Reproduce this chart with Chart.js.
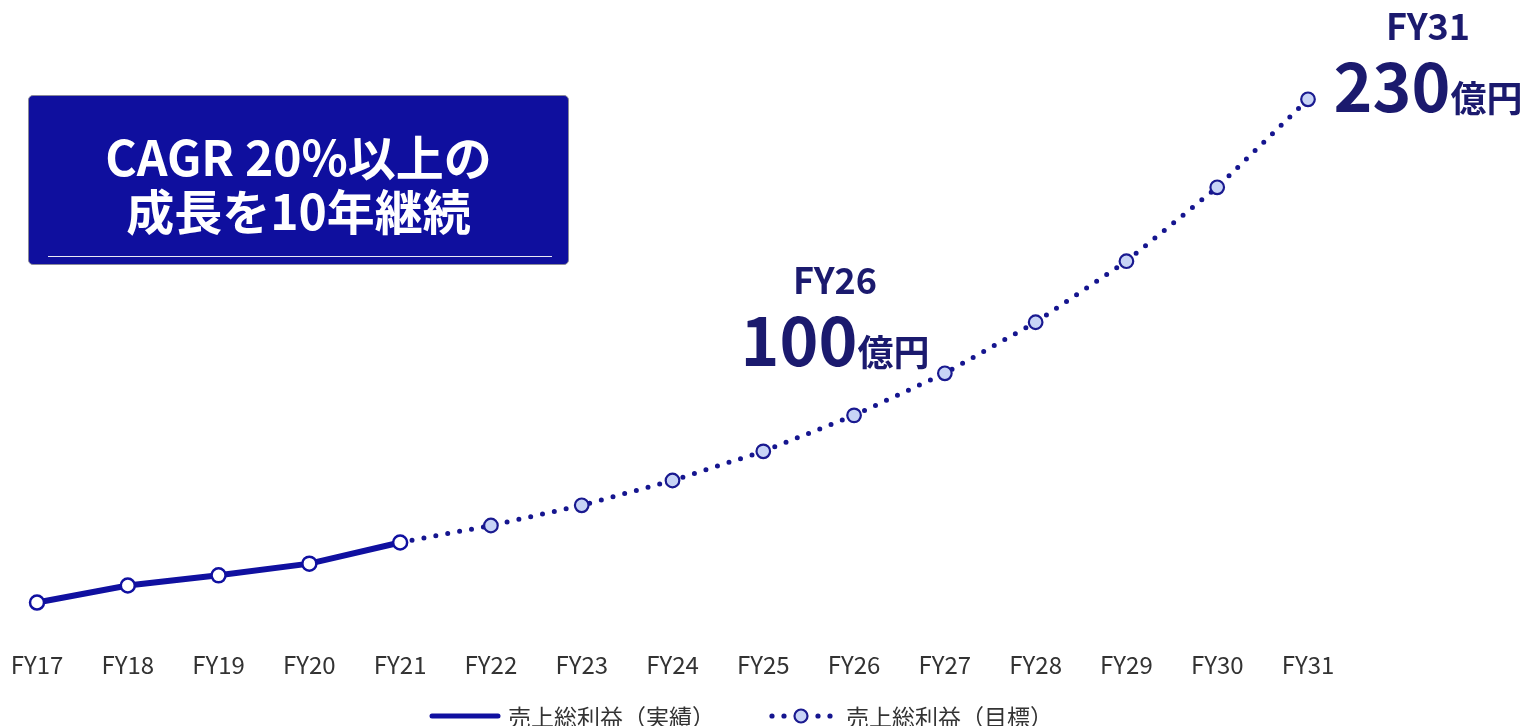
<!DOCTYPE html>
<html>
<head>
<meta charset="utf-8">
<script src="https://cdn.jsdelivr.net/npm/chart.js@4"></script>
<style>
  html, body { margin: 0; padding: 0; background: #fff; }
  body { width: 1526px; height: 726px; position: relative; overflow: hidden; font-family: "Noto Sans CJK JP", "Noto Sans", sans-serif; }
  #wrap { position: absolute; left: 0; top: 0; width: 1526px; height: 726px; }
  .box { position: absolute; left: 28px; top: 95px; width: 539px; height: 168px; background: #0f0f9e; border: 1px solid #8a8a9a; border-radius: 5px; box-sizing: content-box; }
  .box .t { position: absolute; left: 0; width: 100%; text-align: center; color: #fff; font-weight: 700; font-size: 48px; line-height: 54px; }
  .box .rule { position: absolute; left: 19px; right: 16px; top: 160px; height: 1px; background: #e8e8f4; }
  .ann { position: absolute; text-align: center; color: #1b1a6e; font-weight: 700; white-space: nowrap; }
  .ann .fy { font-size: 36px; line-height: 40px; position: relative; top: -4px; }
  .ann .big { font-size: 66px; line-height: 70px; }
  .ann .unit { font-size: 36px; }
  .legend { position: absolute; top: 702px; left: 0; width: 1526px; height: 28px; }
  .legend .item { position: absolute; top: 0; display: flex; align-items: center; height: 28px; font-size: 23px; color: #333; }
  .legend svg { display: block; margin-right: 6px; }
</style>
</head>
<body>
<div id="wrap"><canvas id="c" width="1526" height="726"></canvas></div>

<div class="box">
  <div class="t" style="top:32px;">CAGR 20%以上の</div>
  <div class="t" style="top:86px;">成長を10年継続</div>
  <div class="rule"></div>
</div>

<div class="ann" style="left:735px; top:262px; width:200px;">
  <div class="fy">FY26</div>
  <div class="big">100<span class="unit">億円</span></div>
</div>
<div class="ann" style="left:1328px; top:8px; width:200px;">
  <div class="fy">FY31</div>
  <div class="big">230<span class="unit">億円</span></div>
</div>

<div class="legend">
  <div class="item" style="left:428px;">
    <svg width="74" height="10"><line x1="4" y1="5" x2="70" y2="5" stroke="#1010a0" stroke-width="5" stroke-linecap="round"/></svg>
    <span>売上総利益（実績）</span>
  </div>
  <div class="item" style="left:768px;">
    <svg width="72" height="18">
      <circle cx="4" cy="9" r="2.6" fill="#15158f"/><circle cx="16" cy="9" r="2.6" fill="#15158f"/>
      <circle cx="50" cy="9" r="2.6" fill="#15158f"/><circle cx="62" cy="9" r="2.6" fill="#15158f"/>
      <circle cx="33" cy="9" r="6.5" fill="#c8d4f6" stroke="#1a1a90" stroke-width="2.2"/>
    </svg>
    <span>売上総利益（目標）</span>
  </div>
</div>

<script>
const categories = ["FY17","FY18","FY19","FY20","FY21","FY22","FY23","FY24","FY25","FY26","FY27","FY28","FY29","FY30","FY31"];
const actualValues = [23, 30, 34.2, 39, 47.7, null, null, null, null, null, null, null, null, null, null];
const targetValues = [null, null, null, null, 47.7, 54.7, 63, 73.2, 85.2, 100, 117.3, 138.3, 163.4, 193.8, 230];
const seriesNames = ["売上総利益（実績）", "売上総利益（目標）"];

new Chart(document.getElementById('c'), {
  type: 'line',
  data: {
    labels: categories,
    datasets: [
      {
        label: seriesNames[1],
        data: targetValues,
        borderColor: '#15158f',
        borderWidth: 5,
        borderDash: [0, 12.1],
        borderCapStyle: 'round',
        pointRadius: targetValues.map((v, i) => i === 4 ? 0 : 6.8),
        pointBackgroundColor: '#c8d4f6',
        pointBorderColor: '#1a1a90',
        pointBorderWidth: 2.2,
        tension: 0,
        spanGaps: false,
        order: 2
      },
      {
        label: seriesNames[0],
        data: actualValues,
        borderColor: '#1010a0',
        borderWidth: 6,
        pointRadius: 7,
        pointBackgroundColor: '#ffffff',
        pointBorderColor: '#1010a0',
        pointBorderWidth: 2.5,
        tension: 0,
        order: 1
      }
    ]
  },
  options: {
    responsive: false,
    animation: false,
    layout: { padding: { left: 37, right: 218, top: 75, bottom: 47 } },
    plugins: { legend: { display: false }, tooltip: { enabled: false } },
    scales: {
      x: {
        offset: false,
        grid: { display: false, drawTicks: false },
        border: { display: false },
        ticks: { padding: 0, color: '#333', font: { family: '"Noto Sans CJK JP", "Noto Sans", sans-serif', size: 24 }, maxRotation: 0, autoSkip: false }
      },
      y: { display: false, min: 3.4, max: 240 }
    }
  }
});
</script>
</body>
</html>
